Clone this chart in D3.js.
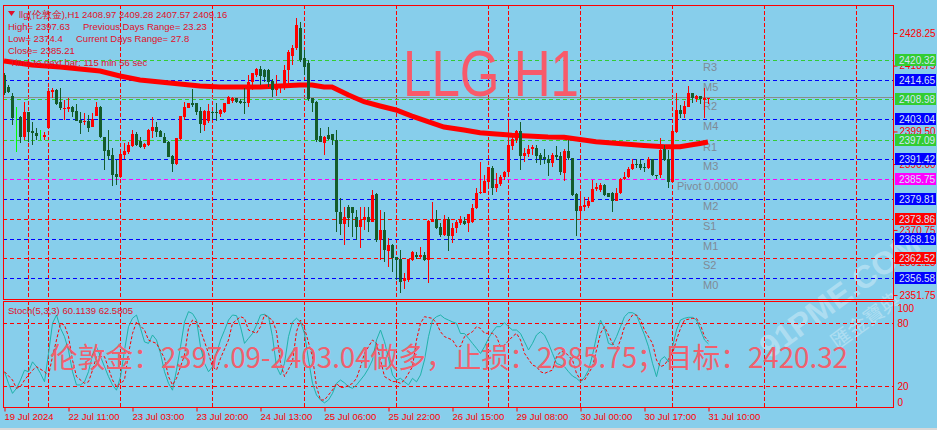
<!DOCTYPE html>
<html><head><meta charset="utf-8">
<script src="https://cdn.jsdelivr.net/npm/d3@7"></script>
<style>html,body{margin:0;padding:0;background:#87ceeb;overflow:hidden}svg{display:block}</style>
</head><body>
<svg id="chart" width="937" height="430"></svg>
<script>
// ---------------- DATA ----------------
// H1 candles: [open, high, low, close]
const candles = [
[2415.99,2416.57,2410.15,2410.73],[2412.57,2413.07,2410.73,2411.11],[2409.86,2410.65,2401.39,2403.35],[2402.85,2406.73,2393.59,2402.85],
[2403.64,2403.90,2396.05,2397.80],[2397.80,2408.19,2397.01,2405.10],[2405.10,2405.27,2396.51,2399.43],[2399.73,2402.35,2395.55,2398.97],
[2399.14,2400.43,2397.01,2398.18],[2398.47,2399.93,2397.01,2398.47],[2397.97,2399.43,2397.01,2398.47],[2400.60,2412.11,2400.40,2411.41],
[2411.11,2412.11,2409.19,2411.61],[2411.61,2411.80,2407.23,2407.52],[2408.02,2412.11,2405.77,2406.27],[2406.15,2408.69,2402.85,2406.35],
[2406.06,2409.19,2405.27,2406.65],[2406.73,2406.90,2403.81,2405.27],[2405.48,2407.43,2402.50,2402.65],[2402.85,2405.10,2398.76,2402.06],
[2402.27,2404.81,2401.39,2402.56],[2402.65,2404.31,2399.43,2400.60],[2400.89,2404.81,2400.70,2403.05],[2404.11,2408.19,2403.90,2406.73],
[2406.65,2406.80,2397.60,2397.80],[2397.80,2398.00,2388.25,2393.89],[2394.09,2399.93,2391.17,2392.34],[2392.63,2394.59,2383.58,2386.79],
[2387.08,2391.17,2383.87,2386.12],[2386.12,2393.13,2385.90,2392.92],[2392.63,2396.05,2391.37,2393.89],[2393.59,2396.51,2392.92,2395.55],
[2395.35,2399.93,2394.88,2398.76],[2398.76,2399.43,2395.26,2395.55],[2396.63,2397.80,2394.59,2394.88],[2394.88,2396.22,2394.38,2395.75],
[2395.55,2400.13,2395.35,2399.93],[2399.73,2403.64,2397.51,2400.72],[2400.72,2402.35,2397.97,2399.43],[2399.64,2399.80,2397.80,2397.97],
[2397.97,2399.14,2396.05,2396.22],[2396.43,2396.60,2391.96,2392.13],[2392.34,2392.50,2387.75,2390.00],[2390.00,2397.60,2389.71,2397.51],
[2397.30,2404.10,2397.01,2404.02],[2403.81,2408.19,2402.85,2406.73],[2406.44,2407.90,2406.27,2407.73],[2407.73,2411.90,2406.73,2407.23],
[2407.73,2407.90,2404.31,2405.27],[2405.48,2406.73,2399.14,2401.59],[2401.39,2405.77,2399.64,2405.48],[2402.65,2407.43,2402.06,2405.48],
[2405.27,2405.57,2402.85,2404.81],[2405.19,2407.73,2402.56,2404.81],[2404.60,2406.06,2403.81,2405.77],[2405.10,2407.90,2404.90,2407.73],
[2407.52,2409.80,2407.43,2409.65],[2408.49,2409.65,2407.90,2409.36],[2409.19,2409.30,2407.73,2408.19],[2408.49,2408.90,2407.43,2407.73],
[2408.19,2412.28,2404.60,2407.90],[2407.73,2415.99,2406.73,2414.03],[2414.03,2416.60,2411.61,2416.49],[2415.99,2417.90,2415.49,2417.74],
[2417.65,2418.62,2413.07,2415.70],[2417.45,2417.60,2414.03,2415.49],[2417.45,2417.60,2412.57,2414.03],[2414.33,2414.73,2409.65,2411.61],
[2411.61,2415.99,2409.86,2413.36],[2413.07,2413.50,2410.65,2413.36],[2413.27,2418.91,2411.61,2417.45],[2417.45,2423.29,2412.49,2422.71],
[2421.50,2424.75,2419.00,2423.87],[2423.87,2432.63,2423.29,2430.59],[2429.71,2431.47,2419.79,2420.37],[2420.95,2423.29,2415.99,2418.33],
[2419.41,2420.37,2408.50,2408.89],[2409.19,2409.40,2405.27,2407.73],[2408.19,2408.40,2396.43,2397.01],[2398.18,2400.43,2396.30,2396.51],
[2396.22,2398.18,2392.63,2397.80],[2398.47,2400.89,2397.01,2397.22],[2398.76,2398.90,2395.55,2397.01],[2397.01,2399.93,2370.24,2376.08],
[2376.08,2379.99,2369.27,2372.48],[2372.48,2377.53,2366.35,2374.44],[2377.53,2377.94,2371.69,2374.15],[2377.36,2377.53,2368.77,2375.78],
[2374.61,2376.57,2367.81,2371.69],[2371.69,2377.53,2365.39,2373.65],[2373.65,2377.53,2370.73,2374.61],[2374.61,2377.53,2370.24,2373.15],
[2373.15,2382.41,2373.00,2380.95],[2381.24,2381.45,2367.31,2367.81],[2367.81,2376.57,2361.97,2370.73],[2370.73,2376.08,2361.47,2364.89],
[2364.69,2368.31,2360.01,2366.35],[2366.35,2366.50,2358.55,2362.47],[2362.76,2362.93,2356.13,2361.97],[2362.26,2364.89,2352.42,2355.63],
[2355.84,2358.09,2353.41,2356.63],[2356.13,2362.30,2355.63,2362.17],[2361.97,2364.69,2361.80,2364.39],[2363.43,2364.39,2362.17,2362.93],
[2362.93,2365.85,2362.17,2363.43],[2363.43,2364.39,2361.80,2361.97],[2361.97,2373.60,2355.34,2373.45],[2373.15,2378.99,2373.00,2373.65],
[2373.85,2376.57,2371.02,2371.23],[2371.69,2372.69,2368.77,2369.27],[2369.27,2375.11,2369.10,2373.85],[2374.03,2374.61,2364.69,2368.98],
[2368.98,2372.69,2367.02,2371.40],[2371.23,2373.65,2369.77,2372.98],[2372.69,2374.82,2372.19,2373.65],[2373.36,2374.61,2372.19,2372.39],
[2372.69,2375.50,2370.24,2375.40],[2372.98,2378.32,2372.80,2377.24],[2377.07,2383.08,2376.90,2381.62],[2381.45,2390.67,2381.30,2381.91],
[2381.62,2386.79,2381.45,2385.13],[2384.83,2389.20,2383.37,2389.04],[2388.92,2389.30,2380.95,2383.08],[2383.08,2387.29,2381.91,2384.16],
[2384.07,2386.79,2383.58,2386.29],[2386.12,2387.90,2385.33,2387.75],[2387.58,2403.05,2386.79,2395.55],[2395.35,2397.97,2394.09,2397.22],
[2397.01,2399.80,2396.22,2399.64],[2399.73,2402.35,2388.25,2392.43],[2392.43,2394.59,2390.67,2393.13],[2392.83,2395.55,2392.13,2394.38],
[2394.29,2395.55,2392.63,2394.88],[2394.59,2395.55,2390.21,2392.43],[2392.63,2393.13,2389.71,2391.17],[2391.96,2394.29,2390.00,2391.37],
[2391.46,2392.63,2386.50,2390.21],[2390.21,2393.13,2389.21,2392.63],[2392.63,2395.26,2391.17,2392.13],[2392.43,2393.59,2386.79,2387.58],
[2387.46,2394.29,2385.04,2393.89],[2393.89,2397.01,2391.17,2391.67],[2391.67,2391.80,2380.80,2380.95],[2381.24,2381.40,2368.98,2376.37],
[2376.37,2380.95,2373.85,2377.74],[2377.53,2380.45,2376.37,2378.03],[2377.74,2380.45,2377.24,2379.29],[2378.99,2385.33,2378.90,2382.61],
[2382.61,2384.37,2382.21,2383.37],[2382.41,2384.37,2381.91,2383.87],[2383.87,2384.16,2380.66,2380.95],[2381.45,2381.60,2380.28,2380.45],
[2381.62,2381.80,2376.08,2379.29],[2379.29,2382.91,2379.10,2381.62],[2381.45,2385.83,2381.30,2385.62],[2385.54,2387.75,2385.33,2386.29],
[2386.29,2389.21,2385.83,2388.46],[2388.46,2391.46,2388.25,2389.92],[2389.92,2391.46,2388.75,2389.71],[2389.92,2391.46,2388.25,2388.75],
[2389.21,2390.21,2387.75,2388.75],[2388.75,2392.13,2388.46,2391.37],[2391.37,2391.55,2386.50,2386.79],[2386.79,2386.90,2385.53,2386.50],
[2386.79,2397.51,2385.83,2394.09],[2394.29,2395.55,2390.97,2391.17],[2391.37,2394.09,2382.99,2384.83],[2384.83,2400.43,2384.37,2399.73],
[2399.43,2410.82,2399.14,2405.77],[2405.77,2407.23,2403.35,2404.60],[2404.60,2408.40,2403.35,2406.94],[2406.73,2412.78,2406.60,2410.82],
[2410.65,2410.80,2407.73,2409.19],[2408.90,2410.15,2408.19,2409.86],[2409.86,2410.00,2407.52,2408.90],[2408.69,2412.11,2403.35,2409.19],
[2408.97,2409.28,2407.57,2409.16]
];
const limeBars = [3, 9];
// moving average samples: [bar, value]
const maPoints = [[0,2420.08],[7,2418.91],[14,2418.33],[24,2417.16],[29,2415.70],[34,2414.53],[39,2413.95],[44,2413.36],[49,2412.78],
[54,2412.49],[59,2412.49],[64,2412.49],[69,2412.78],[74,2413.07],[77,2413.07],[80,2412.49],[82,2412.49],[86,2410.20],[90,2408.19],
[94,2406.94],[98,2405.77],[102,2404.00],[106,2402.35],[110,2400.80],[115,2399.93],[119,2399.10],[123,2398.76],[127,2398.40],
[131,2398.18],[136,2397.90],[140,2397.80],[144,2397.15],[148,2396.51],[152,2396.10],[156,2395.75],[160,2395.40],[165,2395.05],
[169,2395.05],[172,2395.60],[174,2395.99],[176,2396.43]];
// Stochastic(5,3,3) main line, one value per bar
const stochMain = [33.6,22.5,13,17.8,25.7,35,33.6,43,38.4,32,24,51,79.7,87.6,75,67,54,33.6,21,21,24,33.6,49.5,57.4,48,38.4,28.9,21,16,28.9,
54,76.5,84.5,87.6,75,62,60.6,68.6,63.8,51,33.6,22.6,16,35,57.4,81,90.8,89,82.8,57.4,41.6,33.6,38.4,51,63.8,73,82.8,87.6,87,76.5,
60.6,65.4,70,78,87.6,88.3,86,67,38.4,30.5,41.6,67,81,84.5,81,70,44.8,22.6,11.4,6.7,4,6.7,13,22.6,25.7,23,19.4,17.8,21,25.7,
30.5,36.8,44.8,63.8,73.3,62.2,46.4,30.5,25.7,27.3,24,21,27.3,24,30.5,44.8,67,82.8,86,87.6,84.5,82.8,81,79.7,70,70,65.4,60.6,55.9,51,
57.4,65.4,71.7,76.5,76.5,80.3,76.5,73.3,73.3,70,62.2,54.3,60.6,68.6,71.7,68.6,60.6,51,41.6,40,38.4,33.6,29.5,27.3,24,28.3,35,49.5,67,82.8,
75,60.6,59,67,76.5,86,89.8,89.8,87.6,78,68.6,57.4,41.6,28.9,44.8,48,43,57.4,73.3,82.8,84.5,85.4,85.4,82.8,73.3,63.8,60.11];
// Stochastic signal line samples: [bar, value]
const stochSignal = [[0,33.6],[2,25.7],[3,17.8],[4,19.4],[5,25.7],[7,35],[8,38.4],[10,33.6],[11,30],[12,48],[13,63.8],[14,79.7],[15,78],[16,67],
[17,44.8],[18,28.9],[20,22.6],[21,24],[22,35],[23,48],[25,48],[26,36.8],[27,25.7],[28,19.4],[30,25.7],[31,51],[32,70],[33,81],[35,73.3],
[36,63.8],[37,62],[38,60.6],[40,46.4],[41,28.9],[42,21],[43,27.3],[45,49.5],[46,75],[47,82.8],[48,81],[49,73.3],[51,51.1],[52,38.4],[53,35.2],
[54,46.4],[56,63.8],[57,79.7],[59,86],[60,84.4],[61,73.3],[63,70.2],[64,76.5],[65,87.6],[67,82.8],[68,71.7],[69,41.6],[70,29],[72,43.2],
[73,71.7],[74,82.8],[75,74.9],[77,47.9],[78,19.4],[79,6.7],[80,6.7],[82,16.2],[83,22.5],[84,18.7],[85,18.7],[87,22.5],[88,27.3],[89,38.4],
[90,51.1],[92,63.8],[93,60.6],[94,44.8],[95,29],[97,24.2],[98,24.2],[99,22.5],[100,25.7],[102,38.4],[103,63.8],[104,79.7],[105,86],[107,84.4],
[108,79.7],[109,71.7],[110,67],[112,63.8],[113,57.5],[114,57.5],[115,67],[117,71.7],[118,76.5],[119,74.9],[120,70.2],[122,70.2],[123,67],
[124,57.5],[125,59],[127,67],[128,70.2],[129,63.8],[130,51.1],[132,40],[133,38.4],[134,33.7],[135,32],[137,35.2],[138,47.9],[139,52.7],
[140,52.7],[142,44.8],[143,32],[144,25.7],[145,25.7],[147,38.4],[148,54.3],[149,70.2],[150,76.5],[152,60.6],[153,54.3],[154,63.8],[155,76.5],
[157,87.6],[158,87.6],[159,82.8],[160,73.3],[162,60.6],[163,44.8],[164,38.4],[165,40],[167,51.1],[168,63.8],[169,74.9],[170,82.8],[172,84.4],
[173,84.4],[174,78],[175,67],[176,62.58]];

const priceTicks = [2428.25, 2418.75, 2399.50, 2390.00, 2370.75, 2361.25, 2351.75];
const levelNames  = ["R3","M5","R2","M4","R1","M3","Pivot  0.0000","M2","S1","M1","S2","M0"];
const levelValues = [2420.32,2414.65,2408.98,2403.04,2397.09,2391.42,2385.75,2379.81,2373.86,2368.19,2362.52,2356.58];
const levelColors = ["#32cd32","#0000ff","#32cd32","#0000ff","#32cd32","#0000ff","#ff00ff","#0000ff","#ff0000","#0000ff","#ff0000","#0000ff"];
const bidPrice = 2409.16;
const timeLabels = ["19 Jul 2024","22 Jul 11:00","23 Jul 03:00","23 Jul 20:00","24 Jul 13:00","25 Jul 06:00","25 Jul 22:00","26 Jul 15:00","29 Jul 08:00","30 Jul 00:00","30 Jul 17:00","31 Jul 10:00"];
const timeLabelBars = [0,16,32,48,64,80,96,112,128,144,160,176];
const separatorBars = [6,11,29,52,75,98,121,126,144,167,190,213];
const stochTicks = [100,80,20,0];
const stochLevels = [80,20];
const headerLines = [
  ["llg(伦敦金),H1", "2408.97 2409.28 2407.57 2409.16"],
  ["High= 2397.63", "Previous Days Range= 23.23"],
  ["Low= 2374.4", "Current Days Range= 27.8"],
  ["Close= 2385.21"],
  ["Time to next bar: 115 min 56 sec"]
];
const stochTitle = "Stoch(5,3,3) 60.1139 62.5805";
const bigTitle = "LLG H1";
const tradeText = "伦敦金：2397.09-2403.04做多，止损：2385.75；目标：2420.32";

// ---------------- DRAW ----------------
const svg = d3.select("#chart");
const W = 937, H = 430;
const L = 3, R = 893, mainTop = 5, mainBot = 299, stTop = 301, stBot = 407;
const FONT = "'Liberation Sans', Arial, sans-serif";
const RED = "#ff0000";
const TXT = "#e0102a";
const FS = 9.5;

const x = d3.scaleLinear().domain([0, 176]).range([4, 708]);
const y = d3.scaleLinear().domain([2351.75, 2428.25]).range([295, 33]);
const ys = d3.scaleLinear().domain([0, 100]).range([407, 302]);

svg.append("rect").attr("width", W).attr("height", H).attr("fill", "#87ceeb");
svg.append("rect").attr("x", 0).attr("y", 428).attr("width", W).attr("height", 2).attr("fill", "#d8d8d8");

const defs = svg.append("defs");
defs.append("clipPath").attr("id", "clipMain").append("rect").attr("x", L+1).attr("y", mainTop+1).attr("width", R-L-1).attr("height", mainBot-mainTop-1);
defs.append("clipPath").attr("id", "clipSt").append("rect").attr("x", L+1).attr("y", stTop+1).attr("width", R-L-1).attr("height", stBot-stTop-1);

// watermark
const wm = svg.append("g").attr("transform", "translate(846,304) rotate(-36)").attr("opacity", 0.32);
wm.append("text").attr("text-anchor", "middle").attr("font-family", FONT).attr("font-weight", "bold")
  .attr("font-size", 32).attr("fill", "#ffffff").text("91PME.COM");
wm.append("text").attr("text-anchor", "middle").attr("x", 6).attr("y", 32).attr("font-family", "'Noto Sans CJK TC', sans-serif")
  .attr("font-size", 20).attr("fill", "#ffffff").text("匯金寶典");

// vertical separators
const gMain = svg.append("g").attr("clip-path", "url(#clipMain)");
const gSt = svg.append("g").attr("clip-path", "url(#clipSt)");
[[gMain, mainTop, mainBot], [gSt, stTop, stBot]].forEach(([g, t, b]) => {
  g.selectAll("line.sep").data(separatorBars).enter().append("line")
    .attr("x1", d => Math.round(x(d)) + 0.5).attr("x2", d => Math.round(x(d)) + 0.5)
    .attr("y1", t).attr("y2", b).attr("stroke", RED).attr("stroke-dasharray", "4,2");
});

// pivot level lines
gMain.selectAll("line.lvl").data(levelValues).enter().append("line")
  .attr("x1", L).attr("x2", R)
  .attr("y1", d => Math.round(y(d)) + 0.5).attr("y2", d => Math.round(y(d)) + 0.5)
  .attr("stroke", (d, i) => levelColors[i]).attr("stroke-dasharray", "4,3");
// bid line
gMain.append("line").attr("x1", L).attr("x2", R)
  .attr("y1", Math.round(y(bidPrice)) - 0.5).attr("y2", Math.round(y(bidPrice)) - 0.5)
  .attr("stroke", "#8c8c8c");

// pivot labels
gMain.selectAll("text.lvl").data(levelValues).enter().append("text")
  .attr("x", (d, i) => levelNames[i].startsWith("Pivot") ? 677 : 703)
  .attr("y", d => y(d) + 11)
  .attr("font-family", FONT).attr("font-size", 11).attr("fill", "#7f8a96")
  .text((d, i) => levelNames[i]);

// big title
svg.append("text").attr("x", 403).attr("y", 96)
  .attr("font-family", FONT).attr("font-size", 64).attr("fill", "#f85a6a")
  .attr("textLength", 176).attr("lengthAdjust", "spacingAndGlyphs").text(bigTitle);

// header text
const hdr = svg.append("g").attr("font-family", FONT).attr("font-size", FS).attr("fill", TXT);
hdr.append("path").attr("d", "M8,11 L15,11 L11.5,16 Z").attr("fill", TXT);
hdr.append("text").attr("x", 19).attr("y", 18).text(headerLines[0][0]);
hdr.append("text").attr("x", 82).attr("y", 18).text(headerLines[0][1]);
hdr.append("text").attr("x", 8).attr("y", 30).text(headerLines[1][0]);
hdr.append("text").attr("x", 83).attr("y", 30).text(headerLines[1][1]);
hdr.append("text").attr("x", 8).attr("y", 42).text(headerLines[2][0]);
hdr.append("text").attr("x", 76).attr("y", 42).text(headerLines[2][1]);
hdr.append("text").attr("x", 8).attr("y", 54).text(headerLines[3][0]);
hdr.append("text").attr("x", 10).attr("y", 66).text(headerLines[4][0]);

// moving average
gMain.append("path").datum(maPoints)
  .attr("d", d3.line().x(d => x(d[0])).y(d => y(d[1])))
  .attr("fill", "none").attr("stroke", RED).attr("stroke-width", 5);

// candles
const cg = gMain.selectAll("g.c").data(candles).enter().append("g");
cg.each(function (d, i) {
  const g = d3.select(this);
  const [o, h, l, c] = d;
  const lime = limeBars.includes(i);
  const col = lime ? "#00ff00" : (c >= o ? "#ff0000" : "#145c2a");
  const cx = Math.round(x(i));
  g.append("rect").attr("x", cx).attr("y", Math.round(y(h))).attr("width", 1)
    .attr("height", Math.max(1, Math.round(y(l)) - Math.round(y(h)))).attr("fill", col);
  const top = Math.round(y(Math.max(o, c))), bot = Math.round(y(Math.min(o, c)));
  if (!lime) g.append("rect").attr("x", cx - 1).attr("y", top).attr("width", 3)
    .attr("height", Math.max(1, bot - top)).attr("fill", col);
});

// trade text (behind stochastic lines)
svg.append("text").attr("x", 50).attr("y", 368)
  .attr("font-family", "'Noto Sans CJK SC', sans-serif").attr("font-size", 28).attr("fill", "#f0606e")
  .attr("textLength", 798).attr("lengthAdjust", "spacingAndGlyphs")
  .text(tradeText);

// stochastic levels
gSt.selectAll("line.sl").data(stochLevels).enter().append("line")
  .attr("x1", L).attr("x2", R).attr("y1", d => Math.round(ys(d)) + 0.5).attr("y2", d => Math.round(ys(d)) + 0.5)
  .attr("stroke", RED).attr("stroke-dasharray", "4,3");
gSt.append("path").datum(stochMain)
  .attr("d", d3.line().x((d, i) => x(i) + 0.5).y(d => ys(d)))
  .attr("fill", "none").attr("stroke", "#20b2aa").attr("stroke-width", 1);
gSt.append("path").datum(stochSignal)
  .attr("d", d3.line().x(d => x(d[0]) + 0.5).y(d => ys(d[1])))
  .attr("fill", "none").attr("stroke", RED).attr("stroke-width", 1).attr("stroke-dasharray", "3,2");
svg.append("text").attr("x", 8).attr("y", 314).attr("font-family", FONT).attr("font-size", FS)
  .attr("fill", TXT).text(stochTitle);

// frames
const fr = svg.append("g").attr("stroke", RED).attr("fill", "none");
fr.append("rect").attr("x", L + 0.5).attr("y", mainTop + 0.5).attr("width", R - L).attr("height", mainBot - mainTop);
fr.append("rect").attr("x", L + 0.5).attr("y", stTop + 0.5).attr("width", R - L).attr("height", stBot - stTop);

// price axis
const pa = svg.append("g").attr("transform", `translate(${R + 0.5},0)`)
  .call(d3.axisRight(y).tickValues(priceTicks).tickSize(4).tickPadding(2).tickFormat(d3.format(".2f")));
pa.select(".domain").remove();
pa.selectAll("line").attr("stroke", RED);
pa.selectAll("text").attr("fill", RED).attr("font-family", FONT).attr("font-size", 10);

// level price boxes
const bx = svg.append("g");
levelValues.forEach((v, i) => {
  const yy = Math.round(y(v));
  bx.append("rect").attr("x", 895).attr("y", yy - 6).attr("width", 41).attr("height", 12).attr("fill", levelColors[i]);
  bx.append("text").attr("x", 899).attr("y", yy + 4).attr("font-family", FONT).attr("font-size", 10)
    .attr("fill", "#d4e4f8").text(d3.format(".2f")(v));
});

// stochastic axis
const sa = svg.append("g").attr("transform", `translate(${R + 0.5},0)`)
  .call(d3.axisRight(ys).tickValues(stochTicks).tickSize(0).tickPadding(4));
sa.select(".domain").remove();
sa.selectAll("text").attr("fill", RED).attr("font-family", FONT).attr("font-size", 10)
  .attr("dy", d => d === 100 ? "0.95em" : d === 0 ? "-0.2em" : "0.32em");

// time axis
const ta = svg.append("g").attr("transform", `translate(0,${stBot + 0.5})`)
  .call(d3.axisBottom(x).tickValues(timeLabelBars).tickSize(4).tickPadding(2).tickFormat((d, i) => timeLabels[i]));
ta.select(".domain").remove();
ta.selectAll("line").attr("stroke", RED).attr("transform", "translate(0.5,0)");
ta.selectAll("text").attr("fill", RED).attr("font-family", FONT).attr("font-size", FS)
  .attr("text-anchor", "start").attr("dx", 0);
</script>
</body></html>
